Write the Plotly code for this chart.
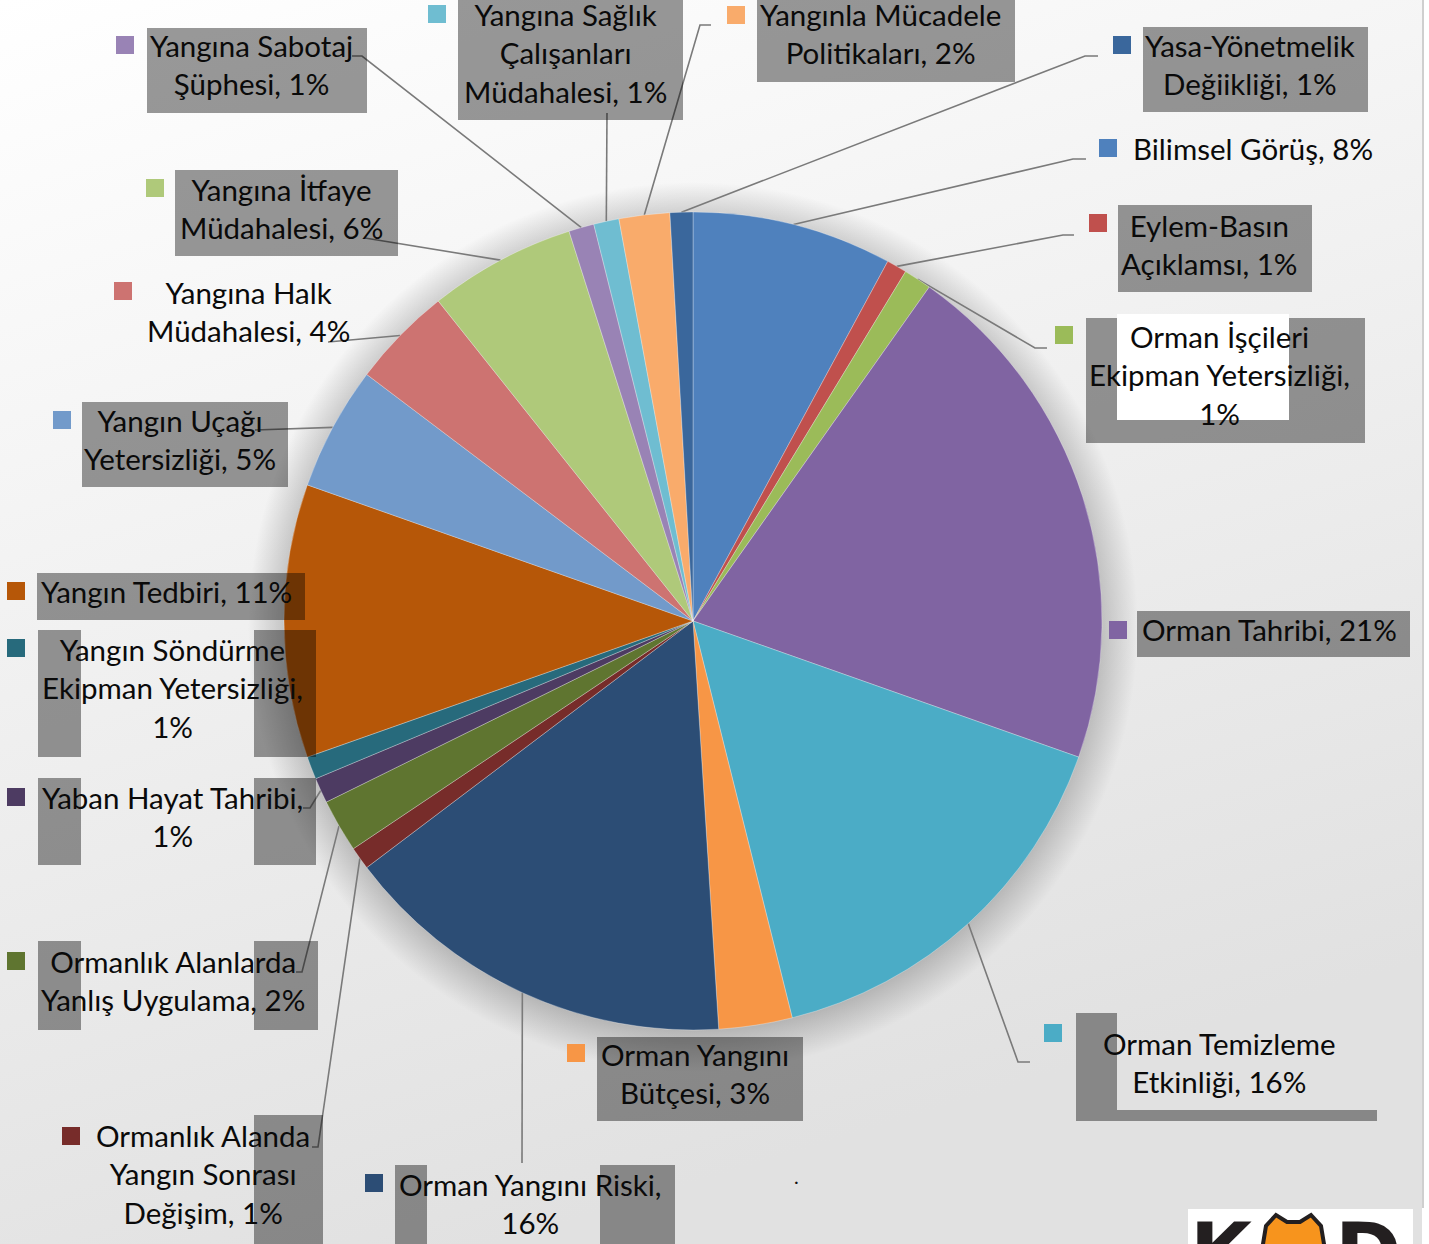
#!/usr/bin/env python

import math
import base64
import plotly.graph_objects as go

W, H = 1429, 1244

# slices, in Excel's order (alphabetical), clockwise from 12 o'clock
labels = ["Bilimsel Görüş", "Eylem-Basın Açıklamsı", "Orman İşçileri Ekipman Yetersizliği",
          "Orman Tahribi", "Orman Temizleme Etkinliği", "Orman Yangını Bütçesi",
          "Orman Yangını Riski", "Ormanlık Alanda Yangın Sonrası Değişim",
          "Ormanlık Alanlarda Yanlış Uygulama", "Yaban Hayat Tahribi",
          "Yangın Söndürme Ekipman Yetersizliği", "Yangın Tedbiri", "Yangın Uçağı Yetersizliği",
          "Yangına Halk Müdahalesi", "Yangına İtfaye Müdahalesi", "Yangına Sabotaj Şüphesi",
          "Yangına Sağlık Çalışanları Müdahalesi", "Yangınla Mücadele Politikaları",
          "Yasa-Yönetmelik Değiikliği"]
values = [7.9, 0.8, 1.1, 20.6, 15.7, 2.9, 15.7, 0.9, 2.1, 1.0, 0.9, 10.8, 4.9, 4.0, 5.8, 1.0, 1.0, 2.0, 0.9]
colors = ["#4F81BD", "#C0504D", "#9BBB59", "#8064A2", "#4BACC6", "#F79646", "#2C4D75",
          "#772C2A", "#5F7530", "#4D3B62", "#276A7C", "#B65708", "#729ACA", "#CD7371",
          "#AFC97A", "#9983B5", "#6FBDD1", "#F9AB6B", "#3A679C"]
# how each label wraps; {} gets the percentage
wrapped = ["Bilimsel Görüş, {}%", "Eylem-Basın<br>Açıklamsı, {}%",
           "Orman İşçileri<br>Ekipman Yetersizliği,<br>{}%", "Orman Tahribi, {}%",
           "Orman Temizleme<br>Etkinliği, {}%", "Orman Yangını<br>Bütçesi, {}%",
           "Orman Yangını Riski,<br>{}%", "Ormanlık Alanda<br>Yangın Sonrası<br>Değişim, {}%",
           "Ormanlık Alanlarda<br>Yanlış Uygulama, {}%", "Yaban Hayat Tahribi,<br>{}%",
           "Yangın Söndürme<br>Ekipman Yetersizliği,<br>{}%", "Yangın Tedbiri, {}%",
           "Yangın Uçağı<br>Yetersizliği, {}%", "Yangına Halk<br>Müdahalesi, {}%",
           "Yangına İtfaye<br>Müdahalesi, {}%", "Yangına Sabotaj<br>Şüphesi, {}%",
           "Yangına Sağlık<br>Çalışanları<br>Müdahalesi, {}%", "Yangınla Mücadele<br>Politikaları, {}%",
           "Yasa-Yönetmelik<br>Değiikliği, {}%"]

# ---- layout (pixels from top-left) ----
CX, CY, R = 693, 621, 409
text_pos = [(1253, 148), (1209, 244), (1219, 375), (1269, 629), (1219, 1062), (695, 1073),
            (530, 1203), (203, 1174), (173, 981), (172, 816), (172, 688), (166, 591),
            (180, 439), (248, 311), (281, 208), (251, 64), (565, 53), (880, 34), (1250, 64)]
square_pos = [(1108, 148), (1098, 223), (1064, 335), (1118, 630), (1053, 1033), (576, 1053),
              (374, 1183), (71, 1136), (16, 961), (16, 797), (16, 648), (16, 591),
              (62, 420), (123, 291), (155, 188), (125, 45), (437, 14), (736, 15), (1122, 45)]
# leader line points on the label side (None = no leader)
leaders = [[(1086, 159), (1073, 159)], [(1074, 235), (1063, 235)], [(1047, 348), (1035, 348)],
           None, [(1030, 1062), (1018, 1062)], None, [(522, 1163)], [(312, 1147), (318, 1147)],
           [(296, 972), (302, 972)], [(303, 808), (310, 808)], None, None, [(255, 430)],
           [(328, 342)], [(365, 238)], [(352, 56), (362, 56)], [(607, 113)],
           [(711, 25), (700, 25)], [(1098, 56), (1085, 56)]]
# grey label backgrounds (x0, y0, x1, y1) and white cut-outs
grey_boxes = [(147, 28, 367, 113), (458, -5, 683, 120), (757, -5, 1015, 82), (1143, 27, 1368, 112),
              (1118, 205, 1312, 292), (1086, 318, 1365, 443), (1137, 611, 1410, 657),
              (1076, 1013, 1117, 1121), (1117, 1110, 1377, 1121), (597, 1037, 803, 1121),
              (395, 1165, 427, 1250), (600, 1165, 675, 1250), (254, 1115, 323, 1250),
              (38, 941, 81, 1030), (254, 941, 318, 1030), (38, 778, 81, 865), (254, 778, 316, 865),
              (38, 630, 81, 757), (254, 630, 316, 757), (37, 573, 305, 620), (82, 402, 288, 487),
              (175, 170, 398, 256)]
white_boxes = [(1117, 314, 1289, 420)]


def px(x, y):
    return x / W, 1 - y / H


bg_svg = f"""<svg xmlns='http://www.w3.org/2000/svg' width='{W}' height='{H}'>
<defs>
<linearGradient id='g' x1='0' y1='0' x2='0.35' y2='1'>
<stop offset='0' stop-color='#ffffff'/><stop offset='1' stop-color='#e1e1e1'/></linearGradient>
<radialGradient id='s' cx='{CX}' cy='{CY + 6}' r='{R + 36}' gradientUnits='userSpaceOnUse'>
<stop offset='0.9' stop-color='#000' stop-opacity='0.22'/>
<stop offset='1' stop-color='#000' stop-opacity='0'/></radialGradient>
</defs>
<rect width='{W}' height='{H}' fill='#ffffff'/>
<rect width='1422' height='{H}' fill='url(#g)'/>
<line x1='1423' y1='0' x2='1423' y2='1208' stroke='#cfcfcf' stroke-width='2'/>
<circle cx='{CX}' cy='{CY + 6}' r='{R + 36}' fill='url(#s)'/>
</svg>"""
bg_uri = "data:image/svg+xml;base64," + base64.b64encode(bg_svg.encode()).decode()

fig = go.Figure()
fig.add_trace(go.Pie(
    labels=labels, values=values, sort=False, direction="clockwise", rotation=0,
    marker=dict(colors=colors, line=dict(color="rgba(255,255,255,0.5)", width=0.6)),
    textinfo="none", hoverinfo="label+percent", showlegend=False,
    domain=dict(x=[(CX - R) / W, (CX + R) / W], y=[1 - (CY + R) / H, 1 - (CY - R) / H]),
))

shapes = []
total = sum(values)
cum = 0
for i, v in enumerate(values):
    mid = (cum + v / 2) / total * 2 * math.pi
    cum += v
    if leaders[i] is None:
        continue
    edge = (CX + R * math.sin(mid), CY - R * math.cos(mid))
    pts = leaders[i] + [edge]
    path = "M " + " L ".join(f"{px(x, y)[0]:.5f},{px(x, y)[1]:.5f}" for x, y in pts)
    shapes.append(dict(type="path", path=path, xref="paper", yref="paper", layer="below",
                       line=dict(color="#7a7a7a", width=1.6)))

for x0, y0, x1, y1 in grey_boxes:
    a, b = px(x0, y1)
    c, d = px(x1, y0)
    shapes.append(dict(type="rect", x0=a, y0=b, x1=c, y1=d, xref="paper", yref="paper",
                       layer="above", line=dict(width=0), fillcolor="rgba(0,0,0,0.4)"))
for x0, y0, x1, y1 in white_boxes:
    a, b = px(x0, y1)
    c, d = px(x1, y0)
    shapes.append(dict(type="rect", x0=a, y0=b, x1=c, y1=d, xref="paper", yref="paper",
                       layer="above", line=dict(width=0), fillcolor="#ffffff"))

for (sx, sy), col in zip(square_pos, colors):
    a, b = px(sx - 9, sy + 9)
    c, d = px(sx + 9, sy - 9)
    shapes.append(dict(type="rect", x0=a, y0=b, x1=c, y1=d, xref="paper", yref="paper",
                       layer="above", line=dict(width=0), fillcolor=col))

# logo corner
a, b = px(1188, 1250)
c, d = px(1413, 1209)
shapes.append(dict(type="rect", x0=a, y0=b, x1=c, y1=d, xref="paper", yref="paper",
                   layer="above", line=dict(width=0), fillcolor="#ffffff"))
fox = [(1262, 1250), (1266, 1226), (1276, 1215), (1287, 1222), (1300, 1222), (1311, 1215),
       (1321, 1226), (1325, 1250)]
shapes.append(dict(type="path", xref="paper", yref="paper", layer="above",
                   path="M " + " L ".join(f"{px(x, y)[0]:.5f},{px(x, y)[1]:.5f}" for x, y in fox) + " Z",
                   fillcolor="#F7941D", line=dict(color="#231f20", width=4)))

annotations = []
for i, v in enumerate(values):
    pct = round(v / total * 100)
    x, y = px(*text_pos[i])
    annotations.append(dict(text=wrapped[i].format(pct), x=x, y=y, xref="paper", yref="paper",
                            xanchor="center", yanchor="middle", align="center", showarrow=False,
                            font=dict(family="Lato", size=29.5, color="#0a0a0a")))
for txt, (x, y) in [("K", (1222, 1252)), ("D", (1368, 1252))]:
    a, b = px(x, y)
    annotations.append(dict(text=f"<b>{txt}</b>", x=a, y=b, xref="paper", yref="paper",
                            xanchor="center", yanchor="middle", showarrow=False,
                            font=dict(family="DejaVu Sans", size=80, color="#231f20")))
a, b = px(796, 1190)
annotations.append(dict(text=".", x=a, y=b, xref="paper", yref="paper", showarrow=False,
                        font=dict(family="Lato", size=20, color="#111111")))

fig.update_layout(
    width=W, height=H, margin=dict(l=0, r=0, t=0, b=0),
    paper_bgcolor="#ffffff", plot_bgcolor="rgba(0,0,0,0)",
    images=[dict(source=bg_uri, xref="paper", yref="paper", x=0, y=1, sizex=1, sizey=1,
                 sizing="stretch", layer="below")],
    shapes=shapes, annotations=annotations,
)

fig.write_html("out.html", config={"displayModeBar": False},
               post_script="document.body.style.margin='0';")
